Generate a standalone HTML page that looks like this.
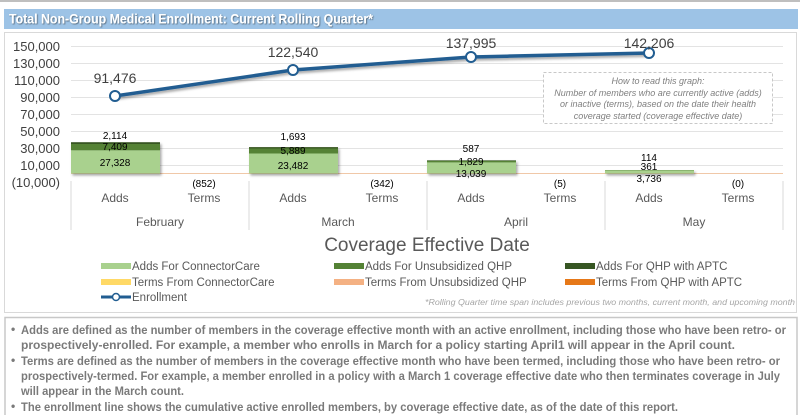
<!DOCTYPE html>
<html><head><meta charset="utf-8"><style>
html,body{margin:0;padding:0;background:#fff;width:800px;height:415px;overflow:hidden}
svg{display:block}
text{font-family:"Liberation Sans",sans-serif}
</style></head><body>
<svg width="800" height="415" viewBox="0 0 800 415" xmlns="http://www.w3.org/2000/svg">
<defs>
<filter id="sh" x="-10%" y="-30%" width="130%" height="180%"><feDropShadow dx="1.5" dy="2" stdDeviation="1.2" flood-color="#000" flood-opacity="0.35"/></filter>
<filter id="ts" x="-5%" y="-20%" width="110%" height="150%"><feDropShadow dx="0.8" dy="0.8" stdDeviation="0.4" flood-color="#000" flood-opacity="0.5"/></filter>
</defs>
<rect x="0" y="0" width="800" height="2" fill="#bfbfbf"/>
<rect x="4" y="9" width="794" height="20" fill="#9dc3e6"/>
<text x="9" y="23.5" font-size="14" font-weight="bold" fill="#fff" filter="url(#ts)" textLength="364" lengthAdjust="spacingAndGlyphs">Total Non-Group Medical Enrollment: Current Rolling Quarter*</text>
<rect x="4.5" y="32.5" width="792" height="280" fill="none" stroke="#d9d9d9"/>
<g stroke="#e3e3e3" stroke-width="1">
<line x1="71" x2="783" y1="46.5" y2="46.5"/><line x1="71" x2="783" y1="63.5" y2="63.5"/>
<line x1="71" x2="783" y1="80.5" y2="80.5"/><line x1="71" x2="783" y1="97.5" y2="97.5"/>
<line x1="71" x2="783" y1="114.5" y2="114.5"/><line x1="71" x2="783" y1="131.5" y2="131.5"/>
<line x1="71" x2="783" y1="148.5" y2="148.5"/><line x1="71" x2="783" y1="165.5" y2="165.5"/>
</g>
<line x1="71" x2="783" y1="173.5" y2="173.5" stroke="#f0c8a8"/>
<g font-size="13" fill="#404040" text-anchor="end">
<text x="60" y="51">150,000</text><text x="60" y="68">130,000</text><text x="60" y="85">110,000</text>
<text x="60" y="102">90,000</text><text x="60" y="119">70,000</text><text x="60" y="136">50,000</text>
<text x="60" y="153">30,000</text><text x="60" y="170">10,000</text><text x="60" y="187">(10,000)</text>
</g>
<g stroke="#d9d9d9"><line x1="71" x2="71" y1="181" y2="230"/><line x1="249" x2="249" y1="181" y2="230"/><line x1="427" x2="427" y1="181" y2="230"/><line x1="605" x2="605" y1="181" y2="230"/><line x1="783" x2="783" y1="181" y2="230"/></g>
<g font-size="12" fill="#595959" text-anchor="middle">
<text x="115" y="202">Adds</text><text x="204" y="202">Terms</text>
<text x="293" y="202">Adds</text><text x="382" y="202">Terms</text>
<text x="471" y="202">Adds</text><text x="560" y="202">Terms</text>
<text x="649" y="202">Adds</text><text x="738" y="202">Terms</text>
<text x="160" y="226">February</text><text x="338" y="226">March</text>
<text x="516" y="226">April</text><text x="694" y="226">May</text>
</g>
<text x="427" y="251" font-size="19" fill="#595959" text-anchor="middle">Coverage Effective Date</text>
<g filter="url(#sh)">
<rect x="71" y="150.3" width="89" height="23.2" fill="#a9d18e"/><rect x="71" y="144" width="89" height="6.3" fill="#548235"/><rect x="71" y="142.2" width="89" height="1.8" fill="#375623"/>
<rect x="249" y="153.5" width="89" height="20" fill="#a9d18e"/><rect x="249" y="148.5" width="89" height="5" fill="#548235"/><rect x="249" y="147.1" width="89" height="1.4" fill="#375623"/>
<rect x="427" y="162.4" width="89" height="11.1" fill="#a9d18e"/><rect x="427" y="160.8" width="89" height="1.6" fill="#548235"/><rect x="427" y="160.3" width="89" height="0.6" fill="#375623"/>
<rect x="605" y="170.3" width="89" height="3.2" fill="#a9d18e"/><rect x="605" y="170" width="89" height="0.4" fill="#548235"/>
</g>
<g font-size="10" fill="#000" text-anchor="middle">
<text x="115" y="139">2,114</text><text x="115" y="150">7,409</text><text x="115" y="166">27,328</text>
<text x="293" y="140">1,693</text><text x="293" y="154">5,889</text><text x="293" y="169">23,482</text>
<text x="471" y="152">587</text><text x="471" y="165">1,829</text><text x="471" y="177">13,039</text>
<text x="649" y="161">114</text><text x="649" y="170">361</text><text x="649" y="182">3,736</text>
<text x="204" y="187">(852)</text><text x="382" y="187">(342)</text><text x="560" y="187">(5)</text><text x="738" y="187">(0)</text>
</g>
<polyline points="115,96 293,70 471,57 649,53" fill="none" stroke="#215d91" stroke-width="3.5" filter="url(#sh)"/>
<g fill="#fff" stroke="#215d91" stroke-width="2">
<circle cx="115" cy="96" r="5"/><circle cx="293" cy="70" r="5"/><circle cx="471" cy="57" r="5"/><circle cx="649" cy="53" r="5"/>
</g>
<g font-size="14" fill="#404040" text-anchor="middle">
<text x="115" y="83">91,476</text><text x="293" y="57">122,540</text><text x="471" y="48">137,995</text><text x="649" y="48">142,206</text>
</g>
<rect x="543.5" y="72.5" width="229" height="51" fill="#fff" stroke="#c8c8c8" stroke-dasharray="3,2"/>
<g font-size="9" font-style="italic" fill="#7f7f7f" text-anchor="middle">
<text x="658" y="84">How to read this graph:</text>
<text x="658" y="96">Number of members who are currently active (adds)</text>
<text x="658" y="107">or inactive (terms), based on the date their health</text>
<text x="658" y="119">coverage started (coverage effective date)</text>
</g>
<rect x="101" y="263" width="30" height="6" fill="#a9d18e"/><rect x="334" y="263" width="30" height="6" fill="#548235"/><rect x="565" y="263" width="30" height="6" fill="#375623"/>
<rect x="101" y="279" width="30" height="6" fill="#ffd966"/><rect x="334" y="279" width="30" height="6" fill="#f4b183"/><rect x="565" y="279" width="30" height="6" fill="#e67818"/>
<line x1="101" x2="131" y1="297" y2="297" stroke="#215d91" stroke-width="3"/><circle cx="116" cy="297" r="3.5" fill="#fff" stroke="#215d91" stroke-width="1.5"/>
<g font-size="11.5" fill="#595959">
<text x="132" y="270">Adds For ConnectorCare</text><text x="365" y="270">Adds For Unsubsidized QHP</text><text x="596" y="270">Adds For QHP with APTC</text>
<text x="132" y="286">Terms From ConnectorCare</text><text x="365" y="286">Terms From Unsubsidized QHP</text><text x="596" y="286">Terms From QHP with APTC</text>
<text x="132" y="301">Enrollment</text>
</g>
<text x="795" y="305" font-size="8" font-style="italic" fill="#a6a6a6" text-anchor="end" textLength="370" lengthAdjust="spacingAndGlyphs">*Rolling Quarter time span includes previous two months, current month, and upcoming month</text>
<rect x="5" y="317.5" width="792" height="100" fill="#fff" stroke="#c8c8c8" stroke-width="1.5"/>
<g font-size="12" font-weight="bold" fill="#7a7a7a">
<text x="11" y="333">•</text><text x="11" y="364">•</text><text x="11" y="410">•</text>
<text x="21" y="334" textLength="765" lengthAdjust="spacingAndGlyphs">Adds are defined as the number of members in the coverage effective month with an active enrollment, including those who have been retro- or</text>
<text x="21" y="349" textLength="714" lengthAdjust="spacingAndGlyphs">prospectively-enrolled.  For example, a member who enrolls in March for a policy starting April1 will appear in the April count.</text>
<text x="21" y="365" textLength="759" lengthAdjust="spacingAndGlyphs">Terms are defined as the number of members in the coverage effective month who have been termed, including those who have been retro- or</text>
<text x="21" y="380" textLength="759" lengthAdjust="spacingAndGlyphs">prospectively-termed.  For example, a member enrolled in a policy with a March 1 coverage effective date who then terminates coverage in July</text>
<text x="21" y="395" textLength="163" lengthAdjust="spacingAndGlyphs">will appear in the March count.</text>
<text x="21" y="411" textLength="657" lengthAdjust="spacingAndGlyphs">The enrollment line shows the cumulative active enrolled members, by coverage effective date, as of the date of this report.</text>
</g>
</svg>
</body></html>
